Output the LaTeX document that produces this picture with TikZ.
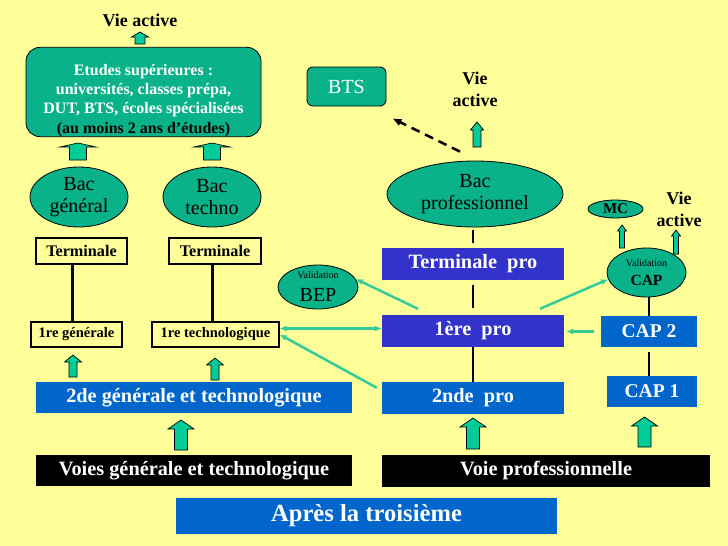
\documentclass[tikz,border=0pt]{standalone}
\usepackage{fontspec}
\setmainfont{Liberation Serif}
\usepackage{tikz}
\usetikzlibrary{shapes.geometric}
\usetikzlibrary{arrows.meta}
\definecolor{jaune}{RGB}{255,255,153}
\definecolor{vert}{RGB}{10,178,138}
\definecolor{flechev}{RGB}{0,204,153}
\definecolor{lienvert}{RGB}{51,204,153}
\definecolor{bleu}{RGB}{0,102,204}
\definecolor{violet}{RGB}{51,51,204}
\newcommand{\taille}[2]{\fontsize{#1}{#2}\selectfont}
% grosse fleche verticale : x, haut, bas, demi-tete, demi-tige, hauteur tete
\newcommand{\grossefleche}[6]{%
  \filldraw[fill=flechev, draw=black, line width=0.7pt]
    (#1,#2) -- ({#1+#4},{#2+#6}) -- ({#1+#5},{#2+#6}) -- ({#1+#5},#3)
    -- ({#1-#5},#3) -- ({#1-#5},{#2+#6}) -- ({#1-#4},{#2+#6}) -- cycle;}
\tikzset{
  texte/.style={inner sep=0pt, align=center, font=\bfseries\taille{18}{22}},
  boite/.style={rectangle, inner sep=0pt, text=white, font=\bfseries\taille{20.3}{22}},
  classe/.style={rectangle, draw=black, line width=1.2pt, inner sep=0pt, font=\bfseries\taille{16.2}{18}},
  bulle/.style={ellipse, draw=black, line width=0.8pt, fill=vert, inner sep=0pt, align=center, font=\taille{20}{22}},
  cadre/.style={rectangle, draw=black, line width=0.8pt, fill=vert, inner sep=0pt, align=center},
  trait/.style={line width=2pt},
  lien/.style={draw=lienvert, line width=2.5pt, -{Latex[length=7pt,width=6pt]}}
}
\begin{document}
\begin{tikzpicture}[x=1pt,y=-1pt]
    \useasboundingbox (0,0) rectangle (728,546);
    \fill[jaune] (0,0) rectangle (728,546);
    % Voies generale et technologique
    \node[texte] (vieG) at (140,20) {Vie active};
    \node[cadre, rounded corners=14pt, minimum width=235, minimum height=87, text=white, font=\bfseries\taille{16}{19.3}] (etudes) at (143.5,92) {\rule{0pt}{28pt}Etudes supérieures :\\universités, classes prépa,\\DUT, BTS, écoles spécialisées\\\textcolor{black}{(au moins 2 ans d’études)}};
    \node[bulle, minimum width=98, minimum height=60] (bacG) at (79,197) {Bac\\général};
    \node[bulle, minimum width=98, minimum height=60] (bacT) at (212,197) {Bac\\techno};
    \node[classe, minimum width=91, minimum height=26] (termG) at (81.5,251) {Terminale};
    \node[classe, minimum width=92, minimum height=26] (termT) at (215,251) {Terminale};
    \node[classe, minimum width=91, minimum height=25, font=\bfseries\taille{14.5}{17}] (premG) at (76.5,334.5) {1re générale};
    \node[classe, minimum width=127, minimum height=25, font=\bfseries\taille{14.5}{17}] (premT) at (215.5,334.5) {1re technologique};
    \node[boite, fill=bleu, minimum width=316, minimum height=31] (secG) at (194,397.5) {2de générale et technologique};
    \node[boite, fill=black, minimum width=316, minimum height=31] (voiesG) at (194,470.5) {Voies générale et technologique};
    \node[boite, fill=bleu, minimum width=381, minimum height=36, font=\bfseries\taille{24.6}{28}] (apres) at (366.5,516) {Après la troisième};
    % Voie professionnelle
    \node[boite, fill=black, minimum width=328, minimum height=32] (voieP) at (546,471) {Voie professionnelle};
    \node[boite, fill=bleu, minimum width=182, minimum height=32] (secP) at (473,398) {2nde\ \ pro};
    \node[boite, fill=violet, minimum width=182, minimum height=32] (premP) at (473,331) {1ère\ \ pro};
    \node[boite, fill=violet, minimum width=182, minimum height=32] (termP) at (473,264) {Terminale\ \ pro};
    \node[bulle, minimum width=176, minimum height=66] (bacP) at (475,194) {Bac\\professionnel};
    \node[texte] (vieM) at (475,89) {Vie\\active};
    \node[cadre, rounded corners=6pt, minimum width=79, minimum height=39, text=white, font=\taille{20}{22}] (bts) at (346.5,86.5) {BTS};
    \node[bulle, minimum width=80, minimum height=44, font=\taille{10}{23}] (bep) at (318,287) {Validation\\{\taille{20}{23}BEP}};
    % CAP
    \node[bulle, minimum width=79, minimum height=49, font=\taille{10}{18.5}] (cap) at (646.5,272.5) {Validation\\{\bfseries\taille{15.5}{18.5}CAP}};
    \node[bulle, minimum width=55, minimum height=18, font=\bfseries\taille{15}{17}] (mc) at (615.5,209) {MC};
    \node[texte] (vieD) at (679,209) {Vie\\active};
    \node[boite, fill=bleu, minimum width=96, minimum height=31, font=\bfseries\taille{19.5}{22}] (cap2) at (649,331.5) {CAP 2};
    \node[boite, fill=bleu, minimum width=90, minimum height=31, font=\bfseries\taille{19.5}{22}] (cap1) at (652,391.5) {CAP 1};
    %
    % Traits:
    \coordinate (lxG) at (72,0);
    \coordinate (lxT) at (212,0);
  \draw[trait, line width=3pt] (termG.south -| lxG) -- (premG.north -| lxG);
  \draw[trait, line width=3pt] (termT.south -| lxT) -- (premT.north -| lxT);
  \draw[trait, shorten <=3pt, shorten >=5pt] (termP.north |- bacP.south) -- (termP.north);
  \draw[trait, shorten <=5pt, shorten >=7pt] (termP) -- (premP);
  \draw[trait] (premP) -- (secP);
  \draw[trait] (cap2.north |- cap.south) -- (cap2.north);
  \draw[trait, shorten <=5pt] (cap2.south) -- (cap2.south |- cap1.north);
    % Passerelles:
  \draw[lien] ([xshift=-55pt,yshift=6pt]premP.north) -- (bep.12);
  \draw[lien, {Latex[length=7pt,width=6pt]}-{Latex[length=7pt,width=6pt]}] ([yshift=6pt]premT.east) -- ([yshift=6pt]premT.east -| premP.west);
  \draw[lien] ([xshift=-5pt,yshift=-6pt]secP.north west) -- (premT.east);
  \draw[lien] ([xshift=67pt,yshift=6pt]premP.north) -- (cap.190);
  \draw[lien, shorten <=7pt, shorten >=2pt] (cap2.west) -- (cap2.west -| premP.east);
  \draw[line width=2.5pt, dash pattern=on 9pt off 6pt, -{Latex[length=9pt,width=8pt]}] ([xshift=-15pt,yshift=9pt]bacP.north) -- ([xshift=6pt,yshift=-12pt]bts.south east);
    % Grosses fleches:
  \grossefleche{140}{32}{44}{8.5}{5}{5}
  \grossefleche{78}{143}{160}{18}{8.5}{4}
  \grossefleche{212}{143}{160}{18}{8.5}{4}
  \grossefleche{73}{355}{377}{8.5}{4}{7}
  \grossefleche{215}{358}{380}{8.5}{4}{7}
  \grossefleche{181}{420}{450}{13}{6.5}{9}
  \grossefleche{473}{418}{449}{13}{6.5}{9}
  \grossefleche{644.5}{417}{447}{13}{6.5}{9}
  \grossefleche{622}{225}{248}{4.5}{2.5}{6}
  \grossefleche{676}{230}{254}{4.5}{2.5}{6}
  \grossefleche{477}{122}{147}{6.5}{4}{8}
    \end{tikzpicture}
\end{document}
